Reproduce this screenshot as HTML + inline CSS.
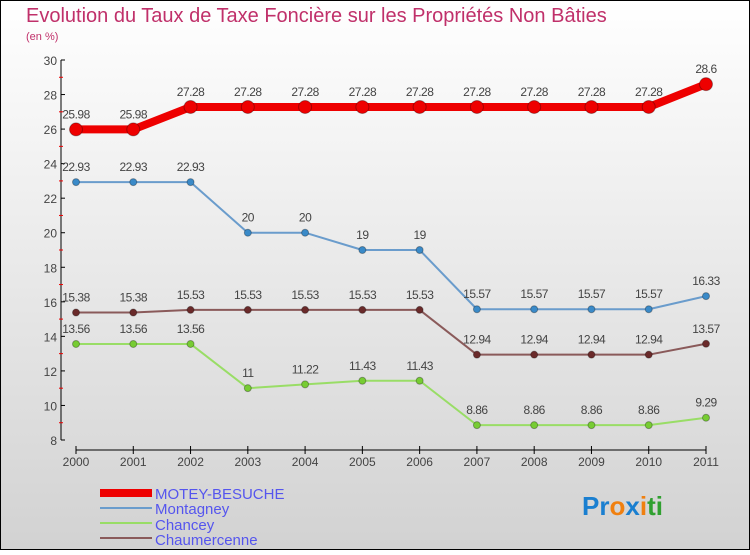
<!DOCTYPE html>
<html><head><meta charset="utf-8"><style>
body{margin:0;}
#c{position:relative;width:750px;height:550px;}
svg text{font-family:"Liberation Sans",sans-serif;}
</style></head><body>
<div id="c">
<svg id="s" width="750" height="550" xmlns="http://www.w3.org/2000/svg">
<defs><linearGradient id="bg" x1="0" y1="0" x2="0" y2="1"><stop offset="0" stop-color="#ffffff"/><stop offset="1" stop-color="#d2d2d2"/></linearGradient></defs>
<rect x="0.5" y="0.5" width="749" height="549" fill="url(#bg)" stroke="#000"/>
<text x="26" y="22" font-size="20" fill="#c0306a">Evolution du Taux de Taxe Foncière sur les Propriétés Non Bâties</text>
<text x="26" y="40" font-size="11" fill="#c0306a">(en %)</text>
<g id="axes"></g><g id="series"></g>
<g>
<rect x="100" y="489" width="52" height="8" fill="#e00"/>
<text x="155" y="499" font-size="15" fill="#5555ee">MOTEY-BESUCHE</text>
<line x1="100" y1="508" x2="152" y2="508" stroke="#6a9ccc" stroke-width="2"/>
<text x="155" y="514" font-size="15" fill="#5555ee">Montagney</text>
<line x1="100" y1="523" x2="152" y2="523" stroke="#99dd66" stroke-width="2"/>
<text x="155" y="530" font-size="15" fill="#5555ee">Chancey</text>
<line x1="100" y1="538" x2="152" y2="538" stroke="#8a5a5a" stroke-width="2"/>
<text x="155" y="545" font-size="15" fill="#5555ee">Chaumercenne</text>
</g>
<text x="582" y="515" font-size="26" font-weight="bold"><tspan fill="#1a7fd0">Pr</tspan><tspan fill="#f08010">o</tspan><tspan fill="#1a7fd0">x</tspan><tspan fill="#f08010">i</tspan><tspan fill="#30a030">ti</tspan></text>
</svg></div>
<script>
const years=["2000","2001","2002","2003","2004","2005","2006","2007","2008","2009","2010","2011"];
const yTicks=[8,10,12,14,16,18,20,22,24,26,28,30];
const moteyBesuche=[25.98,25.98,27.28,27.28,27.28,27.28,27.28,27.28,27.28,27.28,27.28,28.6];
const montagney=[22.93,22.93,22.93,20,20,19,19,15.57,15.57,15.57,15.57,16.33];
const chancey=[13.56,13.56,13.56,11,11.22,11.43,11.43,8.86,8.86,8.86,8.86,9.29];
const chaumercenne=[15.38,15.38,15.53,15.53,15.53,15.53,15.53,12.94,12.94,12.94,12.94,13.57];
const NS="http://www.w3.org/2000/svg";
const X=i=>76+i*(630/11);
const Y=v=>440-(v-8)*(380/22);
function mk(t,a,p){const e=document.createElementNS(NS,t);for(const k in a)e.setAttribute(k,a[k]);p.appendChild(e);return e;}
const ax=document.getElementById('axes');
const yl=mk('line',{x1:61,y1:60,x2:61,y2:440,stroke:'#000'},ax);


yTicks.forEach(v=>{
 mk('line',{x1:61,y1:Y(v),x2:65,y2:Y(v),stroke:'#000'},ax);
 if(v<30) mk('line',{x1:59,y1:Y(v+1),x2:63,y2:Y(v+1),stroke:'#e00'},ax);
 const t=mk('text',{x:57,y:Y(v)+5,'font-size':12,'text-anchor':'end',fill:'#444'},ax);
 t.textContent=v;
 
 
});
const xl=mk('line',{x1:76,y1:450,x2:706,y2:450,stroke:'#000'},ax);


years.forEach((y,i)=>{
 mk('line',{x1:X(i),y1:446,x2:X(i),y2:454,stroke:'#000'},ax);
 const t=mk('text',{x:X(i),y:466,'font-size':12,'text-anchor':'middle',fill:'#444'},ax);
 t.textContent=y;
 
 
});
const sg=document.getElementById('series');
function draw(vals,name,col,w,r,dot){
 const g=mk('g',{},sg);
 
 
 const pl=mk('polyline',{points:vals.map((v,i)=>X(i)+','+Y(v)).join(' '),fill:'none',stroke:col,'stroke-width':w,'stroke-linejoin':'round'},g);
 
 
 vals.forEach((v,i)=>{
  const c=mk('circle',{cx:X(i),cy:Y(v),r:r,fill:dot,stroke:'rgba(0,0,0,0.3)'},g);
  
  
  const t=mk('text',{x:X(i),y:Y(v)-11,'font-size':12,'text-anchor':'middle',fill:'#444','letter-spacing':'-0.5'},g);
  t.textContent=String(v);
  
  
 });
}
draw(chancey,'chancey','#99dd66',2,3.5,'#77cc33');
draw(chaumercenne,'chaumercenne','#8a5a5a',2,3.5,'#6a2a2a');
draw(montagney,'montagney','#6a9ccc',2,3.5,'#3a8ac8');
draw(moteyBesuche,'motey-besuche','#e00',8,6.5,'#e00');
</script>
</body></html>
